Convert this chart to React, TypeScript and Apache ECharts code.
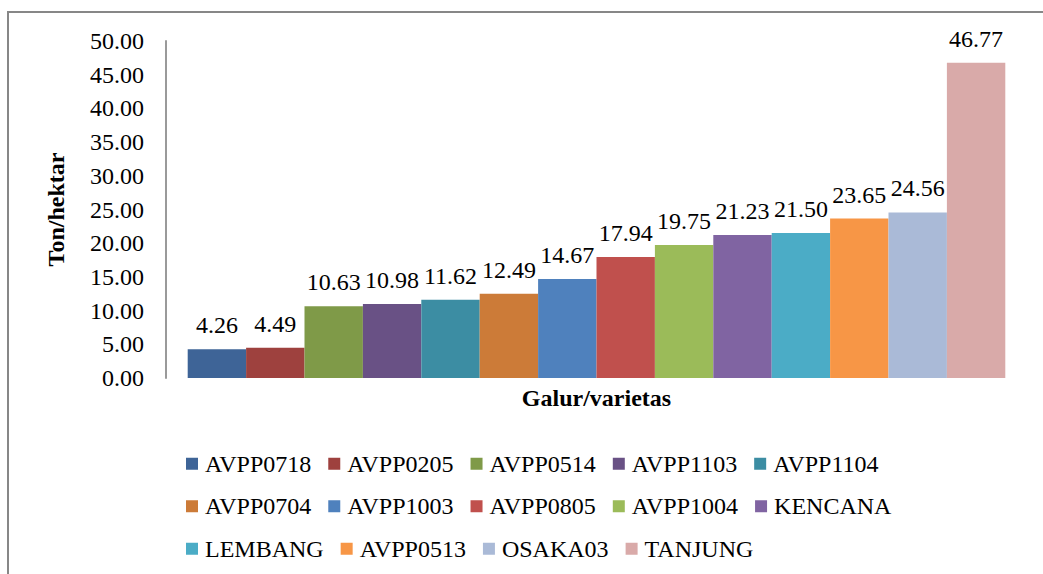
import React, { useEffect, useRef } from "react";
import * as echarts from "echarts";

const varieties = [
  "AVPP0718", "AVPP0205", "AVPP0514", "AVPP1103", "AVPP1104",
  "AVPP0704", "AVPP1003", "AVPP0805", "AVPP1004", "KENCANA",
  "LEMBANG", "AVPP0513", "OSAKA03", "TANJUNG",
];
const yields = [4.26, 4.49, 10.63, 10.98, 11.62, 12.49, 14.67, 17.94, 19.75, 21.23, 21.5, 23.65, 24.56, 46.77];
const colors = [
  "#3E6497", "#9E413E", "#7F9A48", "#695185", "#3C8DA3",
  "#CC7B38", "#4F81BD", "#C0504D", "#9BBB59", "#8064A2",
  "#4BACC6", "#F79646", "#AABAD7", "#D9AAA9",
];
const categories = [""];

const FONT = "Liberation Serif";

export default function App() {
  const ref = useRef<HTMLDivElement>(null);
  useEffect(() => {
    if (!ref.current) return;
    const chart = echarts.init(ref.current, undefined, { renderer: "svg" });
    chart.setOption({
      animation: false,
      backgroundColor: "#ffffff",
      textStyle: { fontFamily: FONT },
      grid: { left: 166, right: 16, top: 41, bottom: 196 },
      graphic: [
        {
          type: "rect",
          shape: { x: 8, y: 12, width: 1200, height: 800 },
          style: { fill: "none", stroke: "#878787", lineWidth: 2 },
          silent: true,
        },
      ],
      legend: {
        data: varieties,
        left: 181,
        top: 446,
        width: 720,
        itemWidth: 12,
        itemHeight: 12,
        itemGap: 17,
        icon: "rect",
        textStyle: { fontFamily: FONT, fontSize: 24, lineHeight: 25.5, color: "#000", padding: [0, 0, 0, 2] },
      },
      xAxis: {
        type: "category",
        data: categories,
        axisLine: { show: false },
        axisTick: { show: false },
        axisLabel: { show: false },
        name: "Galur/varietas",
        nameLocation: "middle",
        nameGap: 8,
        nameTextStyle: { fontFamily: FONT, fontSize: 24, fontWeight: "bold", color: "#000", verticalAlign: "top" },
      },
      yAxis: {
        type: "value",
        min: 0,
        max: 50,
        interval: 5,
        axisLine: { show: true, lineStyle: { color: "#9A9A9A", width: 2 } },
        axisTick: { show: false },
        splitLine: { show: false },
        axisLabel: {
          margin: 22,
          fontFamily: FONT,
          fontSize: 24,
          color: "#000",
          formatter: (v: number) => v.toFixed(2),
        },
        name: "Ton/hektar",
        nameLocation: "middle",
        nameGap: 98,
        nameTextStyle: { fontFamily: FONT, fontSize: 24, fontWeight: "bold", color: "#000" },
      },
      series: varieties.map((name, i) => ({
        name,
        type: "bar",
        data: [yields[i]],
        barWidth: 58.4,
        barGap: "0%",
        itemStyle: { color: colors[i] },
        label: {
          show: true,
          position: "top",
          distance: 12,
          fontFamily: FONT,
          fontSize: 24,
          color: "#000",
          formatter: (p: any) => Number(p.value).toFixed(2),
        },
      })),
    });
    return () => chart.dispose();
  }, []);
  return (
    <div
      ref={ref}
      style={{ position: "fixed", left: 0, top: 0, width: 1043, height: 574, background: "#fff" }}
    />
  );
}
